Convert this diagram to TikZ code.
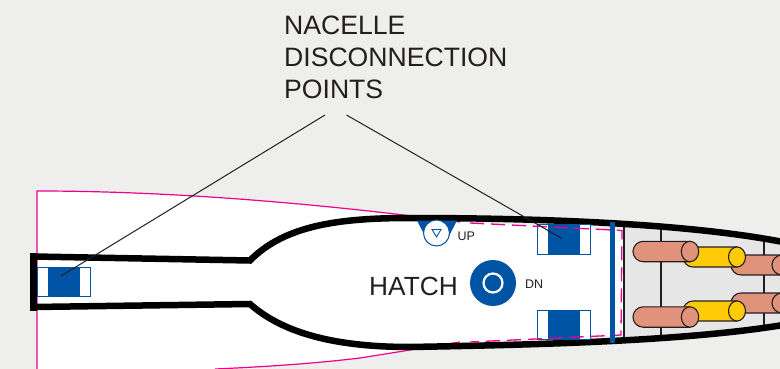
\documentclass[tikz,border=0pt]{standalone}
\usepackage{fontspec}
\setmainfont{Liberation Sans}
\definecolor{bgc}{HTML}{EEEEED}
\definecolor{pinkc}{HTML}{EC008C}
\definecolor{bluec}{HTML}{0054A6}
\definecolor{salmon}{HTML}{E0927A}
\definecolor{yel}{HTML}{FFCB08}
\definecolor{inner}{HTML}{E6E6E6}
\definecolor{ink}{HTML}{231F20}
\tikzset{
 pinkline/.style={draw=pinkc,line width=1.2pt},
 pinkdash/.style={draw=pinkc,line width=1.3pt,dash pattern=on 14pt off 7pt},
 hull/.style={draw=black,line width=6.5pt,line join=miter},
 rib/.style={draw=ink,line width=2.2pt},
 pipe/.style={draw=ink,line width=1.1pt},
 leader/.style={draw=ink,line width=1pt},
 label/.style={inner sep=0pt,text=ink},
 conn/.style={draw=bluec,fill=white,line width=1pt,minimum width=53pt,minimum height=29.5pt,inner sep=0pt},
}
\newcommand{\pipeh}[6]{% x1,x2,y,r,rx,colour
 \filldraw[pipe,fill=#6] (#2,#3-#4) -- (#1+#4,#3-#4) arc[start angle=-90,end angle=-270,radius=#4] -- (#2,#3+#4) -- cycle;
 \filldraw[pipe,fill=#6] (#2,#3) ellipse[x radius=#5,y radius=#4];
}
\begin{document}
\begin{tikzpicture}[x=1pt,y=-1pt]
\useasboundingbox (0,0) rectangle (780,369);
\fill[bgc] (0,0) rectangle (780,369);
% white area
\fill[white] (37,369) -- (37,191) .. controls (180,191) and (330,205) .. (460,222) -- (623,230) -- (623,335) -- (460,342) -- (360,358) .. controls (310,364) and (260,367) .. (215,369) -- cycle;
% inner grey
\fill[inner] (624,223) .. controls (680,226) and (730,232) .. (780,241) -- (780,325) .. controls (730,332) and (680,338) .. (624,342) -- cycle;
% pink
\draw[pinkline] (37,369) -- (37,191) .. controls (180,191) and (330,205) .. (460,222);
\draw[pinkline] (360,358) .. controls (310,364) and (260,367) .. (215,369);
\draw[pinkline] (460,342) -- (360,358);
% ribs
\draw[rib] (624,223) -- (624,342);
\draw[rib] (661,226) -- (661,339);
\draw[rib] (764,236) -- (764,328);
% hull
\draw[hull] (34,256.5) -- (250,260.5) .. controls (285,225) and (340,218) .. (410,218) .. controls (520,218) and (680,222) .. (783,242);
\draw[hull] (34,307) -- (250,304) .. controls (285,335) and (340,347) .. (410,347) .. controls (520,345) and (680,342) .. (783,325);
\fill[black] (30,253) rectangle (37,311);
% connector blocks
\node[conn] (boxA) at (64,282) {};
\fill[bluec] (48,267.5) rectangle (80,296.5);
\node[conn] (boxB) at (564,239.5) {};
\fill[bluec] (548,224) rectangle (580,254.5);
\node[conn] (boxC) at (564,325) {};
\fill[bluec] (548,310) rectangle (580,340);
\draw[pinkdash] (470,223) -- (622,230.5) -- (621,335) -- (470,342);
% firewall
\draw[bluec,line width=5pt] (612,222) -- (612,343);
% pipes
\pipeh{731}{782}{265}{10}{10}{salmon}
\pipeh{731}{782}{303}{10}{10}{salmon}
\pipeh{683}{737}{257}{10}{8.5}{yel}
\pipeh{683}{737}{311}{10}{8.5}{yel}
\pipeh{633}{690}{251.5}{10.2}{8.7}{salmon}
\pipeh{633}{690}{317}{10.2}{8.7}{salmon}
% UP valve
\fill[bluec] (417,220.5) -- (457,220.5) -- (449,236) -- (425,236) -- cycle;
\node[circle,draw=bluec,fill=white,line width=1pt,minimum size=26pt,inner sep=0pt] (up) at (436.5,233) {};
\draw[bluec,line width=0.9pt] (432,229.5) -- (441,229.5) -- (436.5,237) -- cycle;
\node[label,font=\fontsize{12.5}{14}\selectfont,anchor=west] (uplabel) at (457.5,236.5) {UP};
% DN valve
\node[circle,fill=bluec,minimum size=46pt,inner sep=0pt] (dn) at (493,283) {};
\node[circle,draw=white,line width=2.2pt,fill=bluec,minimum size=19pt,inner sep=0pt] (dni) at (493,283) {};
\node[label,font=\fontsize{12.5}{14}\selectfont,anchor=west] (dnlabel) at (525,284) {DN};
\node[label,font=\fontsize{26.3}{30}\selectfont,anchor=west] (hatch) at (369,286.5) {HATCH};
% title
\node[label,font=\fontsize{26.6}{32}\selectfont,align=left,anchor=north west] (title) at (284,16) {NACELLE\\DISCONNECTION\\POINTS};
\coordinate (la) at (325,115);
\coordinate (lb) at (346.5,115);
\draw[leader] (la) -- (61,276);
\draw[leader] (lb) -- (562,238.5);
\end{tikzpicture}
\end{document}
